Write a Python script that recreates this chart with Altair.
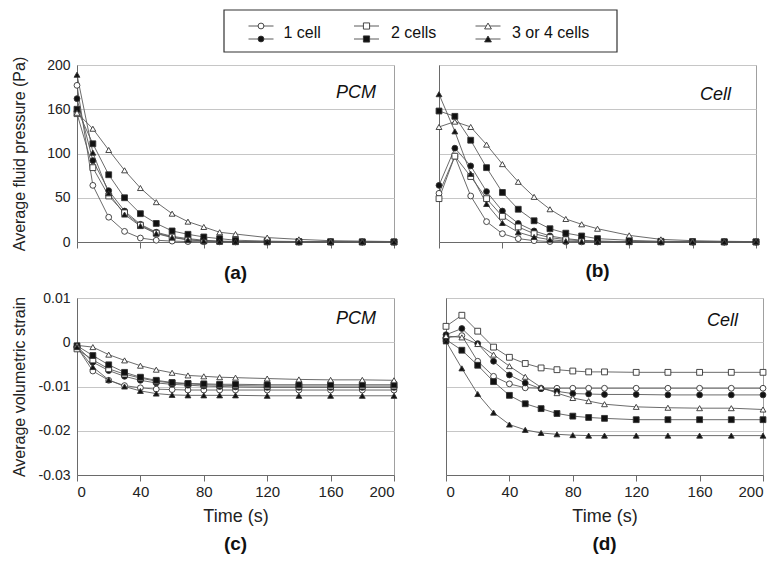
import altair as alt
import pandas as pd

# ---------------- data ----------------
time_s = [0, 10, 20, 30, 40, 50, 60, 70, 80, 90, 100, 120, 140, 160, 180, 200]

series_names = ["1 cell (open)", "1 cell (filled)", "2 cells (open)", "2 cells (filled)",
                "3 or 4 cells (open)", "3 or 4 cells (filled)"]
series_shapes = ["circle", "circle", "square", "square", "triangle-up", "triangle-up"]
series_fills = ["white", "#111111", "white", "#111111", "white", "#111111"]
series_sizes = [34, 34, 38, 38, 46, 46]

legend_labels = ["1 cell", "2 cells", "3 or 4 cells"]
legend_shapes = ["circle", "square", "triangle-up"]

# (a) PCM - average fluid pressure (Pa)
pcm_p_1o = [177, 64, 28, 12, 4.5, 2, 1, 0.5, 0.3, 0.2, 0.1, 0, 0, 0, 0, 0]
pcm_p_1f = [162, 92, 58, 35, 20, 11, 6.4, 3.8, 2, 1, 0.6, 0.3, 0.1, 0, 0, 0]
pcm_p_2o = [145, 84, 52, 33, 19, 10, 5.7, 2.6, 1.2, 0.6, 0.3, 0.1, 0, 0, 0, 0]
pcm_p_2f = [150, 111, 76, 50, 32, 21, 12.5, 8.7, 5.7, 3.8, 2, 1, 0.5, 0.3, 0.2, 0.1]
pcm_p_3o = [146, 128, 104, 81, 61, 45, 32, 23, 17, 11, 9, 5, 3, 1.5, 1, 0.5]
pcm_p_3f = [189, 101, 55, 31, 18, 9.5, 5, 2.5, 1.2, 0.6, 0.3, 0.1, 0, 0, 0, 0]

# (b) Cell - average fluid pressure (Pa)
cell_p_1o = [55, 97, 52, 23, 9.4, 3.8, 1.5, 0.5, 0.2, 0.1, 0, 0, 0, 0, 0, 0]
cell_p_1f = [64, 106, 86, 57, 35, 21, 12.5, 6.8, 3.8, 2, 1, 0.4, 0.2, 0, 0, 0]
cell_p_2o = [49, 97, 74, 49, 29, 17, 9.4, 5, 2.6, 1.5, 0.8, 0.3, 0.1, 0, 0, 0]
cell_p_2f = [148, 142, 115, 84, 56, 37, 24, 15, 10, 6.8, 3.8, 1.9, 0.8, 0.5, 0.3, 0.2]
cell_p_3o = [130, 136, 130, 110, 88, 68, 51, 37, 26, 20, 15, 7.5, 3, 1.5, 0.8, 0.4]
cell_p_3f = [167, 125, 77, 43, 21.5, 11, 5.7, 2.6, 1, 0.5, 0.2, 0, 0, 0, 0, 0]

# (c) PCM - average volumetric strain
pcm_s_1o = [-0.0011, -0.0065, -0.0086, -0.0098, -0.0103, -0.0106, -0.0107, -0.0108,
            -0.0108, -0.0108, -0.0108, -0.0108, -0.0108, -0.0108, -0.0108, -0.0108]
pcm_s_1f = [-0.0009, -0.0045, -0.0064, -0.0077, -0.0086, -0.0092, -0.0095, -0.0097,
            -0.0099, -0.0100, -0.0101, -0.0102, -0.0102, -0.0102, -0.0102, -0.0102]
pcm_s_2o = [-0.0015, -0.0040, -0.0060, -0.0072, -0.0081, -0.0088, -0.0092, -0.0094,
            -0.0096, -0.0097, -0.0098, -0.0099, -0.0099, -0.0099, -0.0099, -0.0099]
pcm_s_2f = [-0.0008, -0.0030, -0.0051, -0.0068, -0.0079, -0.0086, -0.0091, -0.0093,
            -0.0094, -0.0095, -0.0095, -0.0096, -0.0096, -0.0096, -0.0096, -0.0096]
pcm_s_3o = [-0.0007, -0.0011, -0.0028, -0.0041, -0.0053, -0.0062, -0.0069, -0.0075,
            -0.0077, -0.0079, -0.0080, -0.0082, -0.0084, -0.0085, -0.0085, -0.0086]
pcm_s_3f = [-0.0011, -0.0056, -0.0085, -0.0100, -0.0110, -0.0116, -0.0119, -0.0120,
            -0.0120, -0.0120, -0.0120, -0.0121, -0.0121, -0.0121, -0.0121, -0.0121]

# (d) Cell - average volumetric strain
cell_s_1o = [0.0010, 0.0015, -0.0043, -0.0077, -0.0094, -0.0103, -0.0104, -0.0104,
             -0.0104, -0.0104, -0.0104, -0.0104, -0.0104, -0.0104, -0.0104, -0.0104]
cell_s_1f = [0.0017, 0.0031, -0.0003, -0.0043, -0.0074, -0.0092, -0.0105, -0.0111,
             -0.0116, -0.0117, -0.0118, -0.0118, -0.0119, -0.0119, -0.0119, -0.0119]
cell_s_2o = [0.0036, 0.0061, 0.0025, -0.0011, -0.0034, -0.0048, -0.0058, -0.0062,
             -0.0065, -0.0067, -0.0067, -0.0068, -0.0068, -0.0068, -0.0068, -0.0068]
cell_s_2f = [0.0006, -0.0018, -0.0052, -0.0089, -0.0120, -0.0139, -0.0150, -0.0161,
             -0.0167, -0.0170, -0.0172, -0.0175, -0.0175, -0.0175, -0.0175, -0.0175]
cell_s_3o = [0.0014, 0.0011, -0.0004, -0.0028, -0.0054, -0.0078, -0.0102, -0.0115,
             -0.0126, -0.0133, -0.0140, -0.0146, -0.0148, -0.0149, -0.0149, -0.0152]
cell_s_3f = [0.0002, -0.0059, -0.0117, -0.0159, -0.0186, -0.0198, -0.0205, -0.0208,
             -0.0210, -0.0211, -0.0211, -0.0211, -0.0211, -0.0211, -0.0211, -0.0211]


def to_frame(columns):
    rows = []
    for name, vals in zip(series_names, columns):
        for t, v in zip(time_s, vals):
            rows.append({"time": t, "value": v, "series": name})
    return pd.DataFrame(rows)


df_a = to_frame([pcm_p_1o, pcm_p_1f, pcm_p_2o, pcm_p_2f, pcm_p_3o, pcm_p_3f])
df_b = to_frame([cell_p_1o, cell_p_1f, cell_p_2o, cell_p_2f, cell_p_3o, cell_p_3f])
df_c = to_frame([pcm_s_1o, pcm_s_1f, pcm_s_2o, pcm_s_2f, pcm_s_3o, pcm_s_3f])
df_d = to_frame([cell_s_1o, cell_s_1f, cell_s_2o, cell_s_2f, cell_s_3o, cell_s_3f])

# ---------------- style ----------------
W, H = 317, 177
FONT = "Liberation Sans"
NARROW = "Liberation Sans Narrow, Liberation Sans"
LINE = "#5a5a5a"
MARK_STROKE = "#333333"


def panel(df, ydomain, yticks, label_expr, ytitle, show_y, show_x, tag, tag_dx, tag_dy, letter, title_offset):
    x_axis_kw = dict(values=[0, 40, 80, 120, 160, 200], grid=False, ticks=True, tickSize=6,
                     labels=show_x, labelFont=NARROW, labelFontSize=15, labelPadding=3,
                     titleFont=NARROW, titleFontSize=18, titleFontWeight="normal", titlePadding=8)
    if show_x:
        x_axis_kw["title"] = "Time (s)"
    else:
        x_axis_kw["title"] = None
    y_axis_kw = dict(values=yticks, grid=True, ticks=False, labels=show_y, labelFontSize=14,
                     labelPadding=7, labelExpr=label_expr)
    if show_y:
        y_axis_kw.update(title=ytitle, titleFontSize=16, titleFontWeight="normal", titleX=-50)
    else:
        y_axis_kw["title"] = None

    x = alt.X("time:Q", scale=alt.Scale(domain=[0, 200], nice=False, zero=False), axis=alt.Axis(**x_axis_kw))
    y = alt.Y("value:Q", scale=alt.Scale(domain=ydomain, nice=False, zero=False), axis=alt.Axis(**y_axis_kw))
    base = alt.Chart(df)
    lines = base.mark_line(color=LINE, strokeWidth=0.9).encode(
        x=x, y=y, detail="series:N", order="time:Q")
    points = base.mark_point(opacity=1, strokeWidth=0.9).encode(
        x=x, y=y,
        shape=alt.Shape("series:N", scale=alt.Scale(domain=series_names, range=series_shapes), legend=None),
        fill=alt.Fill("series:N", scale=alt.Scale(domain=series_names, range=series_fills), legend=None),
        size=alt.Size("series:N", scale=alt.Scale(domain=series_names, range=series_sizes), legend=None),
        stroke=alt.value(MARK_STROKE),
    )
    label = alt.Chart(pd.DataFrame({"tag": [tag]})).mark_text(
        font=FONT, fontSize=18, fontStyle="italic", align="right", baseline="middle", color="#111"
    ).encode(x=alt.value(W - tag_dx), y=alt.value(tag_dy), text="tag:N")
    return alt.layer(lines, points, label).properties(
        width=W, height=H,
        title=alt.TitleParams(letter, orient="bottom", anchor="middle", frame="group",
                              font=NARROW, fontSize=19, fontWeight="bold", color="#111",
                              offset=title_offset),
    )


p_expr = "datum.value == 150 ? '160' : datum.label"
s_expr = "datum.value == 0 ? '0' : (datum.value < 0 ? '-' : '') + format(abs(datum.value), '.2f')"
p_ticks = [0, 50, 100, 150, 200]
s_ticks = [-0.03, -0.02, -0.01, 0, 0.01]

a = panel(df_a, [0, 200], p_ticks, p_expr, "Average fluid pressure (Pa)", True, False, "PCM", 18, 28, "(a)", 13)
b = panel(df_b, [0, 200], p_ticks, p_expr, "", False, False, "Cell", 25, 30, "(b)", 13)
c = panel(df_c, [-0.03, 0.01], s_ticks, s_expr, "Average volumetric strain", True, True, "PCM", 18, 21, "(c)", 10)
d = panel(df_d, [-0.03, 0.01], s_ticks, s_expr, "", False, True, "Cell", 25, 23, "(d)", 10)

# ---------------- custom legend ----------------
one = pd.DataFrame({"k": [0]})
legend_centers = [184, 289.5, 411]
legend_text_x = [206.5, 314, 435]
legend_layers = [
    alt.Chart(one).mark_rect(fill="white", stroke="#333", strokeWidth=1.2).encode(
        x=alt.value(147), x2=alt.value(540), y=alt.value(0), y2=alt.value(42))
]
for i, lab in enumerate(legend_labels):
    cx = legend_centers[i]
    for ry, fill in [(16, "white"), (29, "#111111")]:
        legend_layers.append(alt.Chart(one).mark_rule(color=LINE, strokeWidth=1).encode(
            x=alt.value(cx - 12.5), x2=alt.value(cx + 12.5), y=alt.value(ry)))
        legend_layers.append(alt.Chart(one).mark_point(opacity=1, strokeWidth=0.9).encode(
            x=alt.value(cx), y=alt.value(ry), shape=alt.value(legend_shapes[i]),
            fill=alt.value(fill), stroke=alt.value(MARK_STROKE), size=alt.value(series_sizes[2 * i])))
    legend_layers.append(alt.Chart(one).mark_text(
        font=FONT, fontSize=16, align="left", baseline="middle", color="#111").encode(
        x=alt.value(legend_text_x[i]), y=alt.value(23), text=alt.value(lab)))
legend = alt.layer(*legend_layers).properties(
    width=560, height=42, view=alt.ViewBackground(stroke="transparent"))

row1 = alt.hconcat(a, b, spacing=45, bounds="flush")
row2 = alt.hconcat(c, d, spacing=52, bounds="flush")
rows = alt.vconcat(row1, row2, spacing=6)

chart = alt.vconcat(legend, rows, spacing=1).properties(
    padding={"left": 2, "top": 0, "right": 0, "bottom": 0}
).configure_view(
    stroke="#a0a0a0", strokeWidth=1
).configure_axis(
    domainColor="#6a6a6a", tickColor="#6a6a6a", gridColor="#c6c6c6", gridWidth=1,
    labelFont=FONT, titleFont=FONT, labelColor="#222", titleColor="#222"
).configure_title(
    font=FONT
)

chart.save("out.html", embed_options={"renderer": "svg", "actions": False})
